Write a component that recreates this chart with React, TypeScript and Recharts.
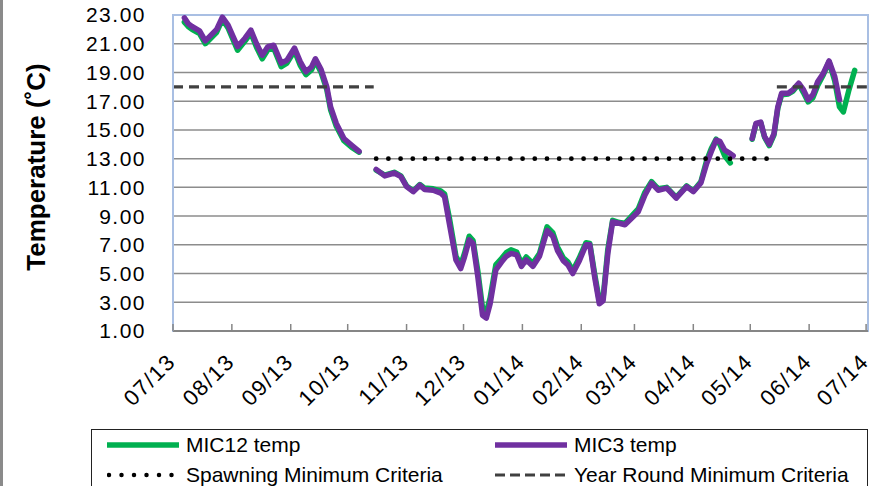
import { CartesianGrid, Line, LineChart, ReferenceArea, XAxis, YAxis } from "recharts";

const GREEN = "#00b050";
const PURPLE = "#7030a0";
const GRID = "#8c8c8c";
const FRAME = "#a9bfe3";
const AXIS = "#868686";
const DASH = "#404040";
const FONT = '"Liberation Sans", Arial, sans-serif';

// x axis = days since 07/01/2013
const MONTH_DAYS = [0, 31, 62, 92, 123, 153, 184, 215, 243, 274, 304, 335, 365];
const MONTH_LABELS = ["07/13", "08/13", "09/13", "10/13", "11/13", "12/13", "01/14", "02/14", "03/14", "04/14", "05/14", "06/14", "07/14"];
const Y_TICKS = [1, 3, 5, 7, 9, 11, 13, 15, 17, 19, 21, 23];

const DAYS = [
  6, 8, 10, 14, 17, 20, 23, 26, 29, 34, 38, 41, 44, 47, 50, 53, 57, 60, 64, 67, 70, 73, 75, 78, 81, 83, 86, 90, 94, 98,
  102,
  107, 111.5, 116.5, 120, 123, 126.5, 130, 132.5, 137, 141, 143, 145.5, 149, 151.5, 153.5, 156, 158, 160.5, 163, 165, 167,
  170, 173, 175.5, 178, 181, 183.5, 186, 189.5, 193, 197, 200, 202.5, 205.5, 208, 210.5, 214, 217.5, 219.5, 222, 224.5,
  226.5, 229, 231.5, 235, 238, 241.5, 245, 248.5, 252, 255.5, 260, 265, 270.5, 274, 278, 281, 283.5, 286, 288, 290.5,
  293.5, 295,
  300,
  305, 307, 309.5, 311.5, 314, 316.5, 318.5, 320.5, 324, 326.5, 329.5, 332, 334.5, 337, 339.5, 342.5, 345.5, 348.5, 351,
  353, 356, 359,
];

const MIC12 = [
  22.5, 22.2, 22.0, 21.7, 21.0, 21.4, 21.8, 22.7, 22.1, 20.55, 21.2, 21.75, 20.75, 19.95, 20.6, 20.7, 19.4, 19.65, 20.5,
  19.5, 18.85, 19.2, 19.8, 19.0, 17.8, 16.4, 15.25, 14.25, 13.8, 13.45,
  null,
  12.2, 11.85, 12.05, 11.8, 11.1, 10.75, 11.2, 10.95, 10.9, 10.75, 10.55, 8.9, 6.2, 5.6, 6.4, 7.6, 7.3, 5.2, 2.6, 2.3,
  3.3, 5.6, 6.05, 6.45, 6.65, 6.5, 5.7, 6.15, 5.7, 6.4, 8.25, 7.85, 6.85, 6.1, 5.8, 5.2, 6.1, 7.15, 7.1, 5.0, 3.1, 3.3,
  6.7, 8.7, 8.55, 8.5, 9.0, 9.5, 10.65, 11.4, 10.9, 11.0, 10.3, 11.1, 10.75, 11.4, 12.85, 13.7, 14.35, 14.0, 13.2, 12.7,
  null,
  null,
  14.35, 15.4, 15.5, 14.5, 13.9, 14.65, 16.5, 17.45, 17.5, 17.7, 18.2, 17.6, 16.95, 17.25, 18.1, 18.85, 19.75, 18.4, 16.6,
  16.25, 17.8, 19.15,
];

const MIC3 = [
  22.8, 22.4, 22.2, 21.9, 21.2, 21.6, 22.0, 22.85, 22.3, 20.8, 21.4, 21.95, 21.0, 20.2, 20.8, 20.9, 19.65, 19.85, 20.7,
  19.75, 19.05, 19.4, 19.95, 19.2, 18.0, 16.6, 15.45, 14.4, 13.95, 13.5,
  null,
  12.25, 11.8, 12.0, 11.75, 11.05, 10.7, 11.15, 10.85, 10.8, 10.6, 10.35, 8.5, 5.95, 5.35, 6.15, 7.35, 7.1, 4.8, 2.1, 1.9,
  2.9, 5.25, 5.8, 6.2, 6.4, 6.3, 5.5, 5.95, 5.5, 6.2, 8.0, 7.6, 6.6, 5.9, 5.6, 5.0, 5.9, 7.0, 7.0, 4.8, 2.9, 3.1,
  6.4, 8.6, 8.5, 8.4, 8.85, 9.3, 10.45, 11.3, 10.8, 10.95, 10.25, 11.05, 10.7, 11.3, 12.65, 13.5, 14.3, 14.2, 13.6, 13.35,
  13.2,
  null,
  14.4, 15.45, 15.55, 14.55, 14.0, 14.75, 16.6, 17.55, 17.55, 17.8, 18.25, 17.8, 17.1, 17.45, 18.35, 18.95, 19.8, 18.7, 17.1,
  null, null, null,
];

const SPAWN_MIN = 13;
const SPAWN_DAYS = [107, 319];
const YEAR_MIN = 18;
const YEAR_DAYS_A = [0, 105.7];
const YEAR_DAYS_B = [318, 366];

const rows = DAYS.map((day, i) => ({ day, mic12: MIC12[i], mic3: MIC3[i] }));
const spawnRows = SPAWN_DAYS.map((day) => ({ day, v: SPAWN_MIN }));
const yearRowsA = YEAR_DAYS_A.map((day) => ({ day, v: YEAR_MIN }));
const yearRowsB = YEAR_DAYS_B.map((day) => ({ day, v: YEAR_MIN }));

const LEGEND = [
  { label: "MIC12 temp", color: GREEN, width: 5.5, dash: undefined as string | undefined, cap: "butt" },
  { label: "MIC3 temp", color: PURPLE, width: 5.5, dash: undefined, cap: "butt" },
  { label: "Spawning Minimum Criteria", color: "#000", width: 4.5, dash: "0 12.5", cap: "round" },
  { label: "Year Round Minimum Criteria", color: DASH, width: 3, dash: "10 5", cap: "butt" },
];

function MonthTick(props: any) {
  const { x, y, payload } = props;
  const idx = MONTH_DAYS.indexOf(payload.value);
  return (
    <g transform={`translate(${x},${y})`}>
      <line x1={0} x2={0} y1={0} y2={-7} stroke={AXIS} strokeWidth={1.5} />
      <text
        transform="translate(4,32) rotate(-45)"
        textAnchor="end"
        fontSize={22}
        letterSpacing={1.5}
        fontFamily={FONT}
        fill="#000"
      >
        {MONTH_LABELS[idx]}
      </text>
    </g>
  );
}

function YTitle(props: any) {
  const vb = props.viewBox || { x: 0, y: 15, width: 170, height: 316 };
  return (
    <text
      transform={`translate(${vb.x + 33},${vb.y + vb.height / 2 - 6}) rotate(-90)`}
      textAnchor="middle"
      dominantBaseline="central"
      fontSize={26}
      fontWeight="bold"
      fontFamily={FONT}
      fill="#000"
    >
      Temperature (˚C)
    </text>
  );
}

export default function App() {
  return (
    <div
      style={{
        position: "relative",
        width: 879,
        height: 486,
        overflow: "hidden",
        background: "#fff",
        boxSizing: "border-box",
        borderLeft: "3px solid #8a8a8a",
      }}
    >
      <style>{"body{margin:0;}"}</style>
      <div style={{ position: "absolute", left: 0, top: 0 }}>
        <LineChart width={879} height={486} data={rows} margin={{ top: 15, right: 14, bottom: 0, left: 0 }}>
          <CartesianGrid vertical={false} stroke={GRID} strokeWidth={1.5} />
          <ReferenceArea x1={0} x2={366} y1={1} y2={23} fill="none" stroke={FRAME} strokeWidth={2} />
          <XAxis
            dataKey="day"
            type="number"
            domain={[0, 366]}
            ticks={MONTH_DAYS}
            interval={0}
            height={155}
            tickSize={0}
            tickMargin={0}
            tickLine={false}
            axisLine={{ stroke: AXIS, strokeWidth: 2 }}
            tick={<MonthTick />}
          />
          <YAxis
            type="number"
            domain={[1, 23]}
            ticks={Y_TICKS}
            interval={0}
            width={170}
            tickSize={0}
            tickMargin={27}
            tickLine={false}
            axisLine={{ stroke: FRAME, strokeWidth: 2 }}
            tickFormatter={(v) => Number(v).toFixed(2)}
            tick={{ fill: "#000", fontSize: 21, fontFamily: FONT, letterSpacing: 1.5 }}
            label={<YTitle />}
          />
          <Line dataKey="mic12" stroke={GREEN} strokeWidth={5.5} dot={false} activeDot={false} isAnimationActive={false} strokeLinejoin="round" strokeLinecap="round" />
          <Line dataKey="mic3" stroke={PURPLE} strokeWidth={5.5} dot={false} activeDot={false} isAnimationActive={false} strokeLinejoin="round" strokeLinecap="round" />
          <Line data={spawnRows} dataKey="v" stroke="#000" strokeWidth={4.8} strokeDasharray="0 12.2" strokeLinecap="round" dot={false} activeDot={false} isAnimationActive={false} />
          <Line data={yearRowsA} dataKey="v" stroke={DASH} strokeWidth={3.2} strokeDasharray="10 6" dot={false} activeDot={false} isAnimationActive={false} />
          <Line data={yearRowsB} dataKey="v" stroke={DASH} strokeWidth={3.2} strokeDasharray="10 6" dot={false} activeDot={false} isAnimationActive={false} />
        </LineChart>
      </div>
      <div
        style={{
          position: "absolute",
          left: 88,
          top: 429,
          width: 777,
          height: 80,
          border: "1px solid #222",
          boxSizing: "border-box",
          fontFamily: FONT,
          fontSize: 21,
          color: "#000",
        }}
      >
        {LEGEND.map((item, i) => (
          <div
            key={item.label}
            style={{
              position: "absolute",
              left: i % 2 === 0 ? 15 : 403,
              top: i < 2 ? 1 : 31,
              height: 28,
              display: "flex",
              alignItems: "center",
              whiteSpace: "nowrap",
            }}
          >
            <svg width={72} height={10} style={{ marginRight: 7 }}>
              <line
                x1={item.cap === "round" ? 2 : 0}
                x2={item.cap === "round" ? 70 : 72}
                y1={5}
                y2={5}
                stroke={item.color}
                strokeWidth={item.width}
                strokeDasharray={item.dash}
                strokeLinecap={item.cap as any}
              />
            </svg>
            <span>{item.label}</span>
          </div>
        ))}
      </div>
    </div>
  );
}
